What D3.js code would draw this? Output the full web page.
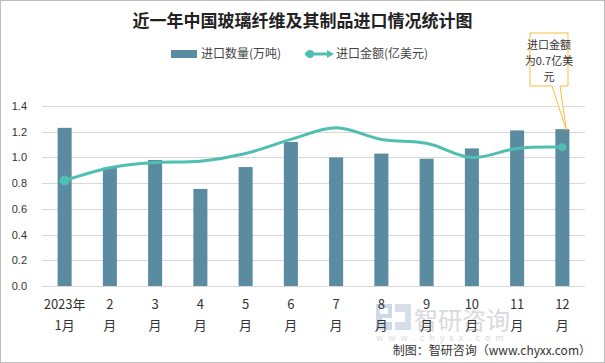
<!DOCTYPE html>
<html>
<head>
<meta charset="utf-8">
<script src="https://cdn.jsdelivr.net/npm/d3@7"></script>
<style>
  body { margin: 0; background: #fff; }
  svg { display: block; font-family: "Noto Sans CJK SC", "Microsoft YaHei", sans-serif; }
</style>
</head>
<body>
<svg></svg>
<script>
// data
const months = ["2023年\n1月", "2\n月", "3\n月", "4\n月", "5\n月", "6\n月", "7\n月", "8\n月", "9\n月", "10\n月", "11\n月", "12\n月"];
const volume = [1.23, 0.92, 0.98, 0.755, 0.925, 1.12, 1.0, 1.03, 0.99, 1.07, 1.21, 1.22];
const amount = [0.82, 0.92, 0.96, 0.97, 1.03, 1.14, 1.23, 1.14, 1.11, 1.0, 1.07, 1.08];
const yTicks = [0, 0.2, 0.4, 0.6, 0.8, 1.0, 1.2, 1.4];

const W = 605, H = 363;
const svg = d3.select("svg").attr("width", W).attr("height", H);

// frame
svg.append("rect")
  .attr("x", 0.5).attr("y", 0.5)
  .attr("width", W - 1).attr("height", H - 1)
  .attr("fill", "#fff").attr("stroke", "#bdbdbd");

const m = { left: 42, right: 20, top: 106, bottom: 77 };

let x = d3.scaleBand()
  .domain(months)
  .range([m.left, W - m.right])
  .paddingInner(0.69).paddingOuter(0.345);

let y = d3.scaleLinear().domain([0, 1.4]).range([H - m.bottom, m.top]);

// title
svg.append("text")
  .attr("x", W / 2).attr("y", 27)
  .attr("text-anchor", "middle")
  .attr("font-size", 17).attr("font-weight", "bold")
  .attr("fill", "#222")
  .text("近一年中国玻璃纤维及其制品进口情况统计图");

// legend
const lg = svg.append("g").attr("font-size", 12).attr("fill", "#444");
lg.append("rect").attr("x", 171).attr("y", 50).attr("width", 26).attr("height", 8).attr("fill", "#5b8ba1");
lg.append("text").attr("x", 201).attr("y", 58).attr("fill", "#444").text("进口数量(万吨)");
lg.append("line").attr("x1", 305).attr("x2", 330).attr("y1", 54).attr("y2", 54)
  .attr("stroke", "#4fbfb2").attr("stroke-width", 3);
lg.append("circle").attr("cx", 310).attr("cy", 54).attr("r", 4).attr("fill", "#4fbfb2");
lg.append("path").attr("d", "M327,50 L334,54 L327,58 Z").attr("fill", "#4fbfb2");
lg.append("text").attr("x", 336).attr("y", 58).attr("fill", "#444").text("进口金额(亿美元)");

// grid + y axis
svg.append("g")
  .selectAll("line")
  .data(yTicks)
  .enter()
  .append("line")
  .attr("x1", m.left).attr("x2", W - m.right)
  .attr("y1", d => Math.round(y(d)) + 0.5).attr("y2", d => Math.round(y(d)) + 0.5)
  .attr("stroke", "#d9d9d9");

let yAxis = svg.append("g")
  .attr("transform", `translate(${m.left - 12},0)`)
  .call(d3.axisLeft(y).tickValues(yTicks).tickFormat(d3.format(".1f")).tickSize(0));
yAxis.select(".domain").remove();
yAxis.selectAll("text").attr("font-size", 11).attr("fill", "#333")
  .attr("font-family", "Arial, 'Liberation Sans', sans-serif").attr("dx", 0);

// watermark
const wm = svg.append("g").attr("fill", "#d2d4d8").attr("opacity", 0.85);
wm.append("path").attr("d", "M376,304 H392 V318 H382 V322 H392 V330 H376 Z M380,308 V314 H388 V308 Z").attr("fill", "#c8d3e3");
wm.append("path").attr("d", "M395,304 H411 V330 H395 V322 H405 V312 H395 Z").attr("fill", "#cfd9e6");
wm.append("text").attr("x", 414).attr("y", 329).attr("font-size", 24).text("智研咨询");
wm.append("text").attr("x", 376).attr("y", 341).attr("font-size", 9).attr("letter-spacing", 5).text("www.chyxx.com");

// bars
svg.append("g")
  .selectAll("rect")
  .data(volume)
  .enter()
  .append("rect")
  .attr("x", (d, i) => x(months[i]))
  .attr("y", d => y(d))
  .attr("width", x.bandwidth())
  .attr("height", d => y(0) - y(d))
  .attr("fill", "#5b8ba1");

// line
const cx = i => x(months[i]) + x.bandwidth() / 2;
let line = d3.line()
  .x((d, i) => cx(i))
  .y(d => y(d))
  .curve(d3.curveCatmullRom.alpha(0.5));

svg.append("path")
  .datum(amount)
  .attr("d", line)
  .attr("fill", "none")
  .attr("stroke", "#4fbfb2")
  .attr("stroke-width", 3);

svg.append("circle").attr("cx", cx(0)).attr("cy", y(amount[0])).attr("r", 5).attr("fill", "#4fbfb2");
svg.append("circle").attr("cx", cx(11)).attr("cy", y(amount[11])).attr("r", 4).attr("fill", "#4fbfb2");

// x labels
const xl = svg.append("g").attr("font-size", 13).attr("fill", "#333");
months.forEach((mth, i) => {
  const parts = mth.split("\n");
  const t = xl.append("text").attr("text-anchor", "middle");
  t.append("tspan").attr("x", cx(i)).attr("y", 309).text(parts[0]);
  t.append("tspan").attr("x", cx(i)).attr("y", 330).text(parts[1]);
});

// callout
const bx = 530, by = 33, bw = 38, bh = 53;
const tipX = cx(11) + 4, tipY = y(volume[11]) + 1;
svg.append("path")
  .attr("d", `M${bx},${by} H${bx + bw} V${by + bh} H${bx + 30} L${tipX},${tipY} L${bx + 22},${by + bh} H${bx} Z`)
  .attr("fill", "#fff").attr("stroke", "#f5c138").attr("stroke-width", 1);
const ct = svg.append("text").attr("text-anchor", "middle").attr("font-size", 11).attr("fill", "#333");
["进口金额", "为0.7亿美", "元"].forEach((s, i) => {
  ct.append("tspan").attr("x", bx + bw / 2).attr("y", by + 16 + i * 16).text(s);
});

// source
svg.append("text")
  .attr("x", 591).attr("y", 355)
  .attr("text-anchor", "end")
  .attr("font-size", 12).attr("fill", "#333")
  .text("制图：智研咨询（www.chyxx.com）");
</script>
</body>
</html>
